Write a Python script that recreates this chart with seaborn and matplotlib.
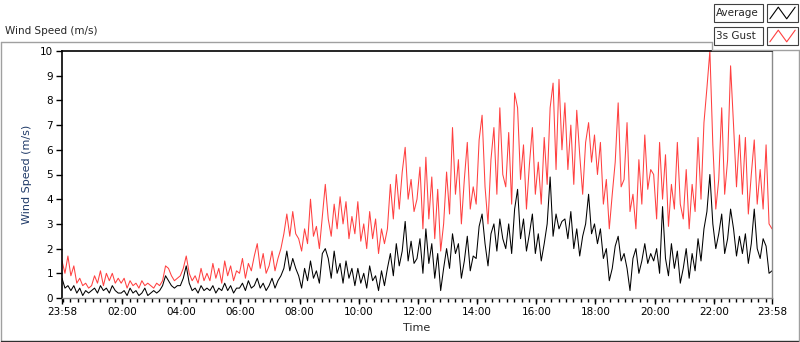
import numpy as np
import pandas as pd
import matplotlib
matplotlib.use('Agg')
import matplotlib.pyplot as plt
import matplotlib.dates as mdates
import seaborn as sns
from matplotlib.lines import Line2D
from matplotlib.patches import Rectangle

# %% data: one reading every 6 minutes (10 per hour)
gust = [
    1.5, 1.0, 1.7, 0.9, 1.3, 0.6, 0.8, 0.5, 0.6, 0.4,   # 23:58
    0.5, 0.9, 0.6, 1.1, 0.5, 1.0, 0.7, 1.0, 0.6, 0.8,
    0.6, 0.8, 0.4, 0.7, 0.5, 0.6, 0.4, 0.7, 0.5, 0.6,   # 02:00
    0.5, 0.4, 0.6, 0.5, 0.7, 1.3, 1.2, 0.9, 0.7, 0.8,
    0.9, 1.2, 1.7, 1.0, 0.7, 0.9, 0.6, 1.2, 0.7, 1.0,   # 04:00
    0.7, 1.4, 0.8, 1.2, 0.6, 1.5, 0.9, 1.3, 0.7, 1.1,
    1.0, 1.6, 0.8, 1.4, 1.1, 1.7, 2.2, 1.2, 1.8, 1.0,   # 06:00
    1.3, 1.9, 1.1, 1.6, 2.0, 2.6, 3.4, 2.5, 3.5, 2.6,
    2.4, 1.9, 2.8, 2.2, 4.0, 2.5, 2.9, 2.0, 3.3, 4.6,   # 08:00
    3.2, 2.5, 3.8, 2.8, 4.1, 3.0, 3.9, 2.4, 3.3, 2.6,
    3.9, 2.3, 3.0, 2.0, 3.5, 2.4, 3.2, 1.8, 2.8, 2.2,   # 10:00
    2.8, 4.6, 3.2, 5.0, 3.6, 5.1, 6.1, 4.0, 4.8, 3.5,
    4.0, 5.3, 2.8, 5.7, 3.2, 4.9, 2.4, 4.4, 1.9, 3.0,   # 12:00
    5.1, 3.4, 6.9, 4.2, 5.6, 3.0, 4.8, 6.3, 3.6, 4.5,
    3.8, 6.4, 7.4, 4.5, 3.0, 5.6, 6.9, 4.2, 7.7, 5.0,   # 14:00
    4.5, 6.7, 3.8, 8.3, 7.7, 4.8, 6.2, 3.6, 5.4, 6.9,
    4.2, 5.5, 3.8, 6.5, 4.6, 7.7, 8.7, 5.2, 8.85, 6.0,  # 16:00
    7.9, 5.2, 7.0, 4.6, 7.6, 5.8, 4.2, 6.3, 7.1, 5.5,
    6.6, 5.0, 6.3, 3.8, 4.8, 2.8, 4.2, 5.5, 7.9, 4.5,   # 18:00
    4.8, 7.1, 3.5, 4.2, 2.8, 5.6, 3.8, 6.6, 4.4, 5.2,
    5.0, 3.2, 6.3, 4.0, 5.8, 2.9, 4.6, 3.6, 6.3, 3.8,   # 20:00
    3.2, 5.2, 2.8, 4.6, 3.5, 6.5, 4.0, 7.1, 8.5, 10.0,
    6.2, 3.6, 4.8, 7.7, 4.2, 5.6, 9.4, 7.0, 4.5, 6.6,   # 22:00
    4.2, 6.5, 3.4, 5.0, 6.4, 3.8, 5.2, 3.6, 6.2, 3.0,
    2.8,
]
average = [
    0.8, 0.4, 0.5, 0.3, 0.5, 0.2, 0.4, 0.1, 0.3, 0.2,
    0.3, 0.4, 0.2, 0.5, 0.3, 0.4, 0.2, 0.5, 0.3, 0.2,
    0.2, 0.3, 0.1, 0.4, 0.2, 0.3, 0.1, 0.2, 0.4, 0.1,
    0.2, 0.3, 0.2, 0.3, 0.5, 0.9, 0.7, 0.5, 0.4, 0.5,
    0.5, 0.8, 1.3, 0.6, 0.3, 0.4, 0.2, 0.5, 0.3, 0.4,
    0.3, 0.5, 0.2, 0.4, 0.3, 0.6, 0.3, 0.5, 0.2, 0.4,
    0.4, 0.6, 0.3, 0.7, 0.4, 0.5, 0.8, 0.4, 0.6, 0.3,
    0.5, 0.8, 0.4, 0.7, 0.9, 1.2, 1.9, 1.1, 1.6, 1.2,
    0.9, 0.4, 1.2, 0.7, 1.5, 0.8, 1.1, 0.6, 1.8, 2.0,
    1.6, 0.8, 1.9, 1.0, 1.4, 0.6, 1.5, 0.8, 1.2, 0.5,
    1.2, 0.6, 1.0, 0.4, 1.3, 0.7, 0.9, 0.3, 1.1, 0.5,
    1.2, 1.8, 0.9, 2.2, 1.3, 1.9, 3.1, 1.5, 2.3, 1.4,
    1.6, 2.4, 1.0, 2.8, 1.4, 2.2, 0.8, 1.8, 0.3, 1.2,
    2.0, 1.2, 2.6, 1.8, 2.2, 0.8, 1.5, 2.5, 1.1, 1.7,
    1.6, 2.9, 3.4, 2.2, 1.3, 2.6, 3.0, 1.9, 3.2, 2.4,
    2.0, 3.0, 1.8, 3.6, 4.4, 2.4, 3.2, 1.9, 2.6, 3.4,
    1.8, 2.6, 1.5, 2.2, 3.0, 4.9, 2.5, 3.4, 2.8, 3.1,
    3.2, 2.4, 3.5, 2.0, 2.8, 1.7, 2.5, 3.0, 4.2, 2.6,
    3.0, 2.2, 2.8, 1.6, 2.0, 0.7, 1.2, 2.1, 2.5, 1.5,
    1.8, 1.2, 0.3, 1.6, 2.0, 1.0, 1.5, 2.2, 1.4, 1.8,
    1.5, 2.0, 1.0, 3.7, 1.6, 0.9, 2.2, 1.2, 1.9, 0.6,
    1.2, 2.0, 0.8, 1.8, 1.1, 2.4, 1.5, 2.8, 3.5, 5.0,
    3.0, 2.0, 2.6, 3.4, 1.8, 2.4, 3.6, 2.8, 1.7, 2.5,
    1.8, 2.6, 1.4, 2.2, 3.6, 2.0, 1.6, 2.4, 2.1, 1.0,
    1.1,
]
start = pd.Timestamp('2021-01-01 23:58')
step_min = 6
tick_labels = ['23:58', '02:00', '04:00', '06:00', '08:00', '10:00', '12:00',
               '14:00', '16:00', '18:00', '20:00', '22:00', '23:58']

times = start + pd.to_timedelta(np.arange(len(gust)) * step_min, unit='min')
df = pd.DataFrame({'Time': times, 'Average': average, '3s Gust': gust})

# %% plot
sns.set_style('ticks')
plt.rcParams['font.family'] = ['DejaVu Sans']
fig = plt.figure(figsize=(8, 3.42), dpi=100)
ax = fig.add_axes([62 / 800, 1 - 298 / 342, 710 / 800, 247 / 342])

red = '#ff4040'
sns.lineplot(data=df, x='Time', y='3s Gust', ax=ax, color=red, linewidth=0.75, estimator=None)
sns.lineplot(data=df, x='Time', y='Average', ax=ax, color='black', linewidth=0.75, estimator=None)

end = start + pd.Timedelta(hours=24)
ax.set_xlim(start, end)
ax.set_ylim(0, 10)
major = [start] + [pd.Timestamp('2021-01-02') + pd.Timedelta(hours=h) for h in range(2, 24, 2)] + [end]
ax.set_xticks(mdates.date2num([t.to_pydatetime() for t in major]))
ax.set_xticklabels(tick_labels)
minor = pd.date_range('2021-01-02 00:00', end, freq='15min')
ax.set_xticks(mdates.date2num(minor.to_pydatetime()), minor=True)
ax.xaxis.remove_overlapping_locs = False
ax.set_yticks(range(0, 11))
ax.xaxis.set_ticks_position('bottom')
ax.yaxis.set_ticks_position('left')

ax.tick_params(axis='both', which='major', direction='out', length=4.5, width=1.0,
               labelsize=7.5, pad=2, colors='black')
ax.tick_params(axis='x', which='minor', direction='out', length=3, width=1.0,
               color='black')

ax.set_xlabel('Time', fontsize=8, labelpad=4)
ax.set_ylabel('Wind Speed (m/s)', fontsize=8, color='#1f3a68', labelpad=6)

for side in ['top', 'left']:
    ax.spines[side].set_visible(True)
    ax.spines[side].set_color('black')
    ax.spines[side].set_linewidth(1.2)
for side in ['right', 'bottom']:
    ax.spines[side].set_visible(True)
    ax.spines[side].set_color('#8a8a8a')
    ax.spines[side].set_linewidth(1.0)

# chart frame
frame = '#a0a0a0'
def fline(x0, y0, x1, y1, c=frame, lw=1.0):
    fig.add_artist(Line2D([x0 / 800, x1 / 800], [1 - y0 / 342, 1 - y1 / 342],
                          color=c, linewidth=lw, transform=fig.transFigure))

fline(0.5, 42, 712, 42)
fline(0.5, 42, 0.5, 341)
fline(0.5, 340.5, 799, 340.5, c='#303030')
fline(712, 42, 712, 50)
fline(712, 50, 799, 50)
fline(798.5, 50, 798.5, 341)

fig.text(5 / 800, 1 - 31 / 342, 'Wind Speed (m/s)', fontsize=7.5, va='center', ha='left')

# legend
for i, (name, col) in enumerate([('Average', 'black'), ('3s Gust', red)]):
    y0 = 4 + i * 23
    fig.add_artist(Rectangle((714 / 800, 1 - (y0 + 18) / 342), 49 / 800, 18 / 342,
                             transform=fig.transFigure, facecolor='white',
                             edgecolor='#404040', linewidth=0.8))
    fig.text(716 / 800, 1 - (y0 + 9) / 342, name, fontsize=7.5, va='center', ha='left')
    fig.add_artist(Rectangle((767 / 800, 1 - (y0 + 18) / 342), 31 / 800, 18 / 342,
                             transform=fig.transFigure, facecolor='white',
                             edgecolor='#404040', linewidth=0.8))
    icon = fig.add_axes([769 / 800, 1 - (y0 + 16) / 342, 27 / 800, 14 / 342], zorder=5)
    icon.patch.set_alpha(0)
    icon.plot([0, 1, 2, 3], [0, 1, 0, 1], color=col, linewidth=0.8)
    icon.set_xlim(-0.1, 3.1)
    icon.set_ylim(-0.1, 1.1)
    icon.axis('off')

fig.savefig('out.png', dpi=100)
